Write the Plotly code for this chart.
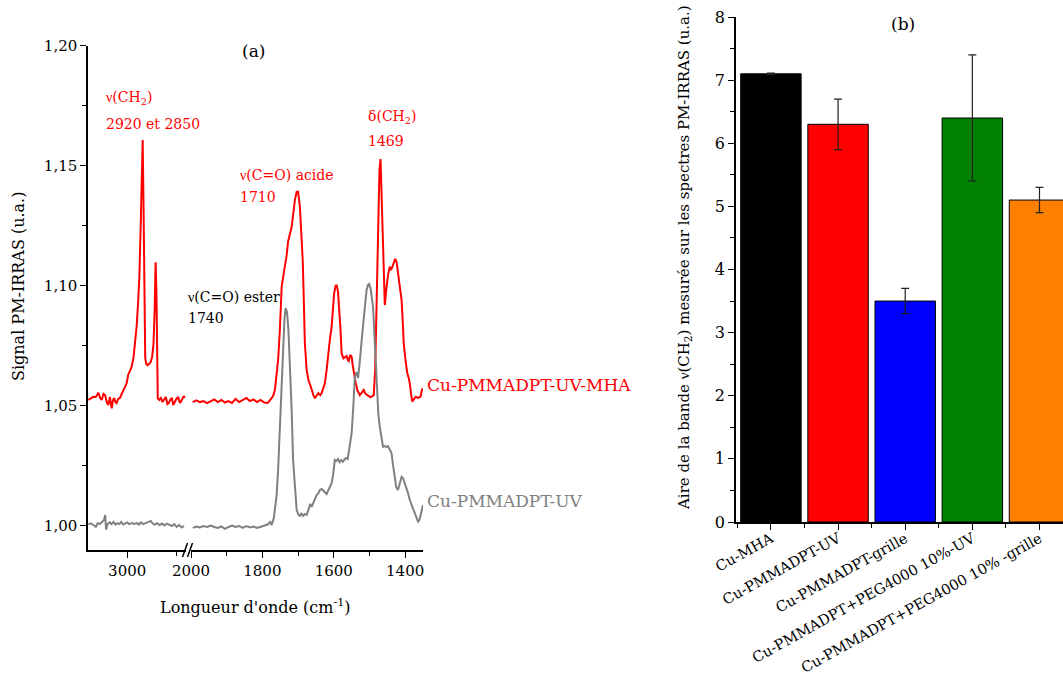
import plotly.graph_objects as go

# ---------------- Panel (a) data : PM-IRRAS spectra ----------------
# high-wavenumber segment (3200-2700 cm-1)
wn_hi_red = [3198, 3185, 3173, 3160, 3147, 3138, 3130, 3121, 3113, 3104, 3096, 3088, 3079, 3072, 3066,
             3060, 3054, 3046, 3037, 3028, 3020, 3010, 3003, 2995, 2989, 2977, 2968, 2960, 2952, 2945,
             2938, 2931, 2925, 2921, 2917, 2912, 2908, 2903, 2896, 2888, 2880, 2873, 2866, 2860, 2855,
             2851, 2848, 2844, 2836, 2828, 2820, 2812, 2803, 2795, 2788, 2780, 2772, 2765, 2757, 2749,
             2740, 2731, 2724, 2719, 2712, 2706]
sig_hi_red = [1.0525, 1.0533, 1.0538, 1.0537, 1.0555, 1.0533, 1.0525, 1.0550, 1.0545, 1.0516, 1.0504,
              1.0537, 1.0490, 1.0525, 1.0533, 1.0516, 1.0511, 1.0529, 1.0533, 1.0550, 1.0566, 1.0583,
              1.0594, 1.0629, 1.0643, 1.0663, 1.0700, 1.0754, 1.0830, 1.0920, 1.1038, 1.1253, 1.1524,
              1.1607, 1.1357, 1.0941, 1.0700, 1.0675, 1.0670, 1.0675, 1.0683, 1.0704, 1.0754, 1.0899,
              1.1098, 1.0983, 1.0650, 1.0532, 1.0525, 1.0533, 1.0516, 1.0529, 1.0537, 1.0508, 1.0512,
              1.0525, 1.0533, 1.0504, 1.0520, 1.0529, 1.0537, 1.0512, 1.0520, 1.0533, 1.0541, 1.0533]

wn_hi_gray = [3198, 3185, 3173, 3160, 3150, 3140, 3128, 3118, 3112, 3108, 3100, 3090, 3080, 3070, 3060,
              3050, 3040, 3030, 3020, 3010, 3000, 2990, 2978, 2965, 2950, 2940, 2930, 2918, 2905, 2893,
              2880, 2870, 2860, 2848, 2835, 2822, 2810, 2798, 2785, 2772, 2760, 2748, 2735, 2722, 2710]
sig_hi_gray = [1.0007, 1.0011, 1.0004, 0.9997, 1.0012, 1.0008, 1.0017, 1.0025, 1.0046, 0.9985, 1.0008,
               1.0015, 1.0008, 1.0017, 1.0006, 1.0012, 1.0008, 1.0017, 1.0006, 1.0012, 1.0015, 1.0008,
               1.0012, 1.0008, 1.0012, 1.0006, 1.0015, 1.0008, 1.0012, 1.0017, 1.0021, 1.0010, 1.0006,
               1.0012, 1.0004, 1.0010, 1.0002, 1.0010, 1.0004, 1.0000, 1.0008, 0.9996, 1.0004, 0.9994,
               1.0000]

# low-wavenumber segment (2000-1350 cm-1)
wn_lo_red = [1995, 1985, 1975, 1965, 1955, 1945, 1935, 1925, 1915, 1905, 1895, 1885, 1875, 1865, 1855,
             1845, 1835, 1825, 1815, 1805, 1795, 1785, 1778, 1770, 1765, 1760, 1756, 1751, 1746, 1741,
             1737, 1732, 1728, 1723, 1718, 1713, 1709, 1704, 1700, 1695, 1690, 1687, 1684, 1681, 1676,
             1671, 1666, 1662, 1657, 1653, 1648, 1643, 1638, 1634, 1629, 1625, 1620, 1616, 1611, 1606,
             1602, 1599, 1595, 1592, 1588, 1585, 1581, 1578, 1573, 1568, 1564, 1561, 1558, 1554, 1550,
             1547, 1544, 1539, 1534, 1530, 1527, 1522, 1516, 1511, 1506, 1501, 1497, 1492, 1488, 1484,
             1480, 1476, 1472, 1469, 1466, 1463, 1460, 1457, 1453, 1448, 1443, 1440, 1437, 1432, 1428,
             1424, 1420, 1415, 1410, 1407, 1404, 1399, 1394, 1390, 1387, 1383, 1380, 1375, 1370, 1365,
             1360, 1357, 1353, 1350]
sig_lo_red = [1.0516, 1.0523, 1.0516, 1.0520, 1.0512, 1.0520, 1.0527, 1.0516, 1.0525, 1.0514, 1.0520,
              1.0512, 1.0529, 1.0516, 1.0525, 1.0533, 1.0520, 1.0527, 1.0516, 1.0525, 1.0514, 1.0512,
              1.0525, 1.0541, 1.0566, 1.0629, 1.0691, 1.0816, 1.0996, 1.1045, 1.1080, 1.1128, 1.1184,
              1.1212, 1.1246, 1.1307, 1.1357, 1.1391, 1.1392, 1.1330, 1.1212, 1.1108, 1.0941, 1.0761,
              1.0650, 1.0608, 1.0587, 1.0566, 1.0545, 1.0532, 1.0541, 1.0553, 1.0545, 1.0554, 1.0575,
              1.0594, 1.0650, 1.0719, 1.0775, 1.0830, 1.0920, 1.0969, 1.0999, 1.1004, 1.0974, 1.0913,
              1.0816, 1.0719, 1.0698, 1.0704, 1.0708, 1.0691, 1.0687, 1.0712, 1.0705, 1.0670, 1.0636,
              1.0600, 1.0566, 1.0554, 1.0545, 1.0554, 1.0566, 1.0550, 1.0545, 1.0541, 1.0536, 1.0541,
              1.0545, 1.0650, 1.0969, 1.1274, 1.1482, 1.1528, 1.1357, 1.1149, 1.0983, 1.0920, 1.0983,
              1.1045, 1.1080, 1.1066, 1.1074, 1.1099, 1.1112, 1.1099, 1.1052, 1.1004, 1.0941, 1.0858,
              1.0761, 1.0691, 1.0636, 1.0616, 1.0594, 1.0545, 1.0518, 1.0529, 1.0538, 1.0533, 1.0537,
              1.0538, 1.0566, 1.0573]

wn_lo_gray = [1995, 1985, 1975, 1965, 1955, 1945, 1935, 1925, 1915, 1905, 1895, 1885, 1875, 1865, 1855,
              1845, 1835, 1825, 1815, 1805, 1795, 1785, 1778, 1774, 1768, 1763, 1760, 1756, 1751, 1747,
              1742, 1738, 1735, 1731, 1727, 1723, 1718, 1714, 1709, 1704, 1699, 1695, 1690, 1686, 1681,
              1676, 1671, 1666, 1662, 1658, 1653, 1648, 1643, 1639, 1634, 1629, 1625, 1620, 1615, 1611,
              1606, 1602, 1597, 1593, 1588, 1584, 1579, 1575, 1570, 1566, 1561, 1557, 1553, 1550, 1545,
              1541, 1536, 1532, 1528, 1524, 1520, 1515, 1511, 1508, 1504, 1501, 1497, 1494, 1490, 1486,
              1482, 1478, 1475, 1471, 1466, 1462, 1457, 1453, 1448, 1443, 1438, 1434, 1429, 1425, 1420,
              1415, 1410, 1406, 1401, 1396, 1392, 1387, 1382, 1378, 1373, 1368, 1364, 1360, 1356, 1352,
              1350]
sig_lo_gray = [0.9992, 0.9998, 0.9994, 1.0000, 0.9996, 1.0002, 0.9996, 0.9992, 0.9998, 0.9988, 0.9996,
               1.0002, 0.9996, 1.0000, 0.9992, 1.0000, 0.9994, 0.9998, 0.9992, 0.9996, 1.0000, 1.0006,
               1.0017, 1.0004, 1.0033, 1.0087, 1.0129, 1.0233, 1.0413, 1.0587, 1.0762, 1.0866, 1.0907,
               1.0891, 1.0816, 1.0691, 1.0483, 1.0275, 1.0150, 1.0067, 1.0046, 1.0042, 1.0054, 1.0040,
               1.0050, 1.0046, 1.0067, 1.0092, 1.0080, 1.0096, 1.0117, 1.0129, 1.0137, 1.0150, 1.0154,
               1.0146, 1.0137, 1.0133, 1.0150, 1.0162, 1.0178, 1.0212, 1.0275, 1.0271, 1.0279, 1.0266,
               1.0275, 1.0268, 1.0275, 1.0283, 1.0279, 1.0316, 1.0358, 1.0386, 1.0504, 1.0622, 1.0641,
               1.0616, 1.0670, 1.0754, 1.0802, 1.0879, 1.0941, 1.0983, 1.1004, 1.1008, 1.0991, 1.0962,
               1.0913, 1.0795, 1.0670, 1.0545, 1.0462, 1.0413, 1.0358, 1.0330, 1.0333, 1.0329, 1.0333,
               1.0316, 1.0303, 1.0254, 1.0192, 1.0162, 1.0150, 1.0175, 1.0205, 1.0200, 1.0179, 1.0158,
               1.0137, 1.0108, 1.0087, 1.0075, 1.0054, 1.0033, 1.0018, 1.0025, 1.0054, 1.0079, 1.0087]

y_ticks_a = [1.00, 1.05, 1.10, 1.15, 1.20]
y_ticktext_a = ["1,00", "1,05", "1,10", "1,15", "1,20"]
x_hi_ticks = [3000]
x_lo_ticks = [2000, 1800, 1600, 1400]

# ---------------- Panel (b) data : band areas ----------------
categories = ["Cu-MHA", "Cu-PMMADPT-UV", "Cu-PMMADPT-grille",
              "Cu-PMMADPT+PEG4000 10%-UV", "Cu-PMMADPT+PEG4000 10% -grille"]
areas = [7.1, 6.3, 3.5, 6.4, 5.1]
area_err = [0.01, 0.4, 0.2, 1.0, 0.2]
bar_colors = ["#000000", "#FF0000", "#0000FF", "#008000", "#FF8000"]

W, H = 1063, 679
def px(x):
    return x / W
def py(y):
    return 1 - y / H

FONT = "DejaVu Serif"
RED = "#FF0000"
GRAY = "#808080"
NU = "<span style=\"font-family:'Liberation Serif'\">ν</span>"

fig = go.Figure()

fig.add_trace(go.Scatter(x=wn_hi_red, y=sig_hi_red, mode="lines", line=dict(color=RED, width=2),
                         xaxis="x", yaxis="y", showlegend=False))
fig.add_trace(go.Scatter(x=wn_hi_gray, y=sig_hi_gray, mode="lines", line=dict(color=GRAY, width=2),
                         xaxis="x", yaxis="y", showlegend=False))
fig.add_trace(go.Scatter(x=wn_lo_red, y=sig_lo_red, mode="lines", line=dict(color=RED, width=2),
                         xaxis="x2", yaxis="y", showlegend=False))
fig.add_trace(go.Scatter(x=wn_lo_gray, y=sig_lo_gray, mode="lines", line=dict(color=GRAY, width=2),
                         xaxis="x2", yaxis="y", showlegend=False))

fig.add_trace(go.Bar(x=list(range(len(categories))), y=areas, width=0.9,
                     marker=dict(color=bar_colors, line=dict(color="#000000", width=1)),
                     error_y=dict(type="data", array=area_err, color="#222222", thickness=1.2, width=4),
                     xaxis="x3", yaxis="y3", showlegend=False))

axis_common = dict(showline=True, linecolor="black", linewidth=1.5, showgrid=False, zeroline=False,
                   ticks="outside", tickcolor="black", tickwidth=1.2, ticklen=6, automargin=False)
tf = dict(family=FONT, size=15, color="black")

fig.update_layout(
    width=W, height=H, margin=dict(l=0, r=0, t=0, b=0, pad=0), autosize=False,
    paper_bgcolor="white", plot_bgcolor="white",
    font=dict(family=FONT, color="black"),
    showlegend=False,
    xaxis=dict(domain=[px(88), px(186)], range=[3200, 2700], anchor="y",
               tickvals=x_hi_ticks, ticktext=[str(v) for v in x_hi_ticks], tickfont=tf,
               minor=dict(tickvals=[2750], ticks="outside", ticklen=4, tickcolor="black", tickwidth=1.2),
               **axis_common),
    xaxis2=dict(domain=[px(191), px(423)], range=[2000, 1350], anchor="y",
                tickvals=x_lo_ticks, ticktext=[str(v) for v in x_lo_ticks], tickfont=tf,
                minor=dict(tickvals=[1900, 1700, 1500], ticks="outside", ticklen=4, tickcolor="black", tickwidth=1.2),
                **axis_common),
    yaxis=dict(domain=[py(550), py(45.7)], range=[0.99, 1.2], anchor="x",
               tickvals=y_ticks_a, ticktext=y_ticktext_a, tickfont=tf,
               minor=dict(tickvals=[1.025, 1.075, 1.125, 1.175], ticks="outside", ticklen=4,
                          tickcolor="black", tickwidth=1.2),
               **axis_common),
    xaxis3=dict(domain=[px(736), 1.0], range=[-0.52, 4.35], anchor="y3",
                tickvals=list(range(len(categories))), ticktext=categories, tickangle=-29,
                tickfont=dict(family=FONT, size=14.5, color="black"), ticklabelstandoff=-5,
                minor=dict(tickvals=[-0.5, 0.5, 1.5, 2.5, 3.5], ticks="outside", ticklen=4,
                           tickcolor="black", tickwidth=1.2),
                **axis_common),
    yaxis3=dict(domain=[py(522), py(17)], range=[0, 8], anchor="x3",
                tickvals=list(range(0, 9)), tickfont=dict(family=FONT, size=16, color="black"),
                minor=dict(tickvals=[0.5 + i for i in range(8)], ticks="outside", ticklen=4,
                           tickcolor="black", tickwidth=1.2),
                **axis_common),
)

ann = []
def text(x, y, s, size=14, color="black", xanchor="left", angle=0):
    ann.append(dict(x=px(x), y=py(y), xref="paper", yref="paper", text=s, showarrow=False,
                    xanchor=xanchor, yanchor="middle", textangle=angle,
                    font=dict(family=FONT, size=size, color=color)))

text(104, 98, NU + "(CH<sub>2</sub>)", 14, RED)
text(104, 124, "2920 et 2850", 14, RED)
text(238, 175, NU + "(C=O) acide", 14, RED)
text(238, 197, "1710", 14, RED)
text(366, 117, "δ(CH<sub>2</sub>)", 14, RED)
text(366, 141, "1469", 14, RED)
text(186, 297, NU + "(C=O) ester", 14, "black")
text(186, 318, "1740", 14, "black")
text(425, 385, "Cu-PMMADPT-UV-MHA", 17, RED)
text(425, 501, "Cu-PMMADPT-UV", 17, GRAY)
text(253, 51, "(a)", 17, "black", "center")
text(903, 24, "(b)", 17, "black", "center")
text(18, 287, "Signal PM-IRRAS (u.a.)", 16, "black", "center", -90)
text(255, 606, "Longueur d'onde (cm<sup>-1</sup>)", 16, "black", "center")
text(684, 258, "Aire de la bande " + NU + "(CH<sub>2</sub>) mesurée sur les spectres PM-IRRAS (u.a.)", 15,
     "black", "center", -90)
fig.update_layout(annotations=ann)

# axis break marks
for x0 in (182.5, 187.5):
    fig.add_shape(type="line", xref="paper", yref="paper",
                  x0=px(x0), y0=py(557), x1=px(x0 + 5), y1=py(543),
                  line=dict(color="black", width=1.5))

fig.write_html("out.html", config={"displayModeBar": False},
               post_script="document.body.style.margin='0';")
